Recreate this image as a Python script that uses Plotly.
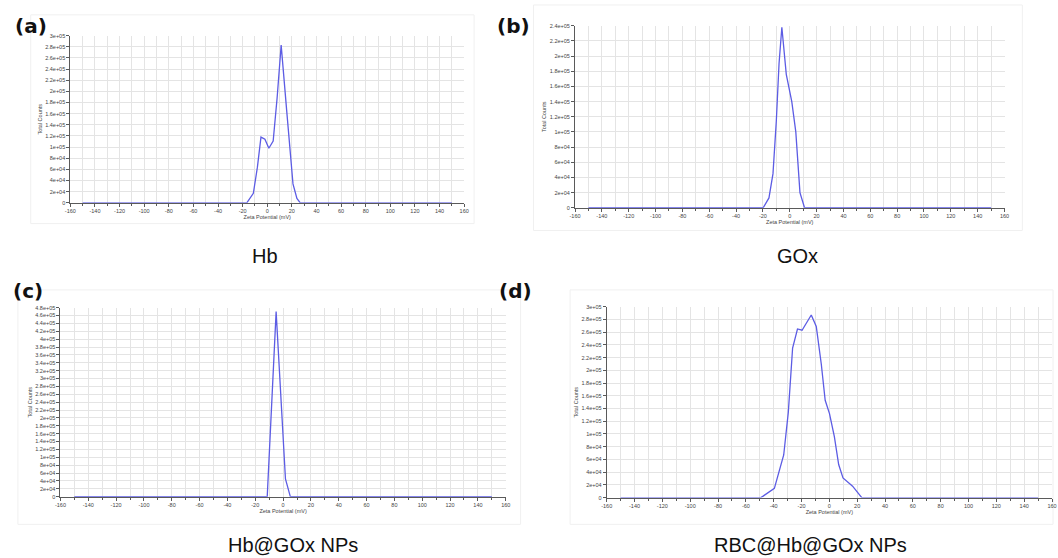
import plotly.graph_objects as go

# ---- data: zeta potential distributions (Total Counts vs mV) ----
hb_x = [-150, -16.6, -11.3, -8, -5.1, -1.9, 1.3, 4.8, 8, 11.3, 16, 20.9, 24.1, 26.8, 150]
hb_y = [0, 0, 17000, 64000, 118000, 114000, 98000, 111000, 188000, 283000, 160000, 34000, 8000, 0, 0]

gox_x = [-150, -19.8, -15.5, -12.5, -10, -8, -5.9, -2.6, 1.5, 4.5, 7.6, 11, 150]
gox_y = [0, 0, 13000, 45000, 115000, 190000, 238000, 176000, 140000, 100000, 20000, 0, 0]

hbgox_x = [-150, -11.4, -5, 1.7, 5.2, 150]
hbgox_y = [0, 0, 470000, 45000, 0, 0]

rbc_x = [-150, -49.2, -39.5, -36.1, -32.8, -29.5, -26.4, -22.9, -19.6, -13, -9.4, -5.8, -3, 0.1, 3.6, 6.7, 9.8, 16.7, 23.3, 150]
rbc_y = [0, 0, 14500, 41000, 67000, 134000, 235000, 265000, 263000, 287000, 269000, 210000, 153000,
         132000, 96000, 52000, 31000, 18000, 0, 0]

panel_tags = ["(a)", "(b)", "(c)", "(d)"]
captions = ["Hb", "GOx", "Hb@GOx NPs", "RBC@Hb@GOx NPs"]
y_tops = [300000, 240000, 480000, 300000]
x_ticks = list(range(-160, 161, 20))
y_step = 20000

W, H = 1058, 558
LINE = "rgb(92,92,228)"
GRID = "#e4e4e4"
AX = "#5a5a5a"

# plot-area boxes in pixels: (left, top, right, bottom)
boxes = [(65, 33, 463, 202), (575, 23, 1009, 207), (55, 308, 505, 499), (607, 307, 1057, 500)]
frames = [(25, 12, 473, 223), (533, 2, 1027, 230), (12, 290, 520, 527), (570, 290, 1058, 527)]
tag_pos = [(8, 23), (495, 23), (6, 291), (497, 291)]
cap_pos = [(262, 256), (800, 256), (290, 548), (813, 548)]

series = [(hb_x, hb_y), (gox_x, gox_y), (hbgox_x, hbgox_y), (rbc_x, rbc_y)]

fig = go.Figure()
layout = dict(width=W, height=H, margin=dict(l=0, r=0, t=0, b=0),
              paper_bgcolor="white", plot_bgcolor="white", showlegend=False,
              font=dict(family="Liberation Sans, Arial, sans-serif", color="#333"))

def fx(px):
    return px / W

def fy(py):
    return 1 - py / H

shapes, annotations = [], []
tick_font = dict(size=5.5, color="#444", family="Liberation Sans, Arial, sans-serif")

for i, ((xs, ys), box, top) in enumerate(zip(series, boxes, y_tops)):
    n = "" if i == 0 else str(i + 1)
    l, t, r, b = box
    yvals = list(range(0, top + 1, y_step))
    ytext = ["0" if v == 0 else "{:.3g}".format(v) for v in yvals]
    layout["xaxis" + n] = dict(
        domain=[fx(l), fx(r)], anchor="y" + n, range=[-160, 160],
        tickmode="array", tickvals=x_ticks, ticktext=[str(v) for v in x_ticks],
        showgrid=True, gridcolor=GRID, gridwidth=1, zeroline=False,
        showline=True, linecolor=AX, linewidth=1,
        ticks="outside", ticklen=3, tickcolor=AX, tickfont=tick_font,
        minor=dict(tickmode="linear", tick0=-160, dtick=10, showgrid=True,
                   gridcolor=GRID, ticks="outside", ticklen=2, tickcolor=AX),
        title=dict(text="Zeta Potential (mV)", font=dict(size=5.5, color="#444"), standoff=1),
    )
    layout["yaxis" + n] = dict(
        domain=[fy(b), fy(t)], anchor="x" + n, range=[0, top],
        tickmode="array", tickvals=yvals, ticktext=ytext,
        showgrid=True, gridcolor=GRID, gridwidth=1, zeroline=False,
        showline=True, linecolor=AX, linewidth=1,
        ticks="outside", ticklen=3, tickcolor=AX, tickfont=tick_font,
        title=dict(text="Total Counts", font=dict(size=5.5, color="#444"), standoff=2),
    )
    fig.add_trace(go.Scatter(x=xs, y=ys, mode="lines", xaxis="x" + n, yaxis="y" + n,
                             line=dict(color=LINE, width=1.3), hoverinfo="skip"))

    fl, ft, fr, fb = frames[i]
    shapes.append(dict(type="rect", xref="paper", yref="paper",
                       x0=fx(fl), x1=fx(fr), y0=fy(fb), y1=fy(ft),
                       line=dict(color="#f0f0f0", width=1), layer="below"))
    tx, ty = tag_pos[i]
    annotations.append(dict(text=panel_tags[i], xref="paper", yref="paper",
                            x=fx(tx), y=fy(ty), xanchor="left", yanchor="middle",
                            showarrow=False, borderpad=0,
                            font=dict(family="DejaVu Sans", size=20, color="#111", weight="bold")))
    cx, cy = cap_pos[i]
    annotations.append(dict(text=captions[i], xref="paper", yref="paper",
                            x=fx(cx), y=fy(cy), xanchor="center", yanchor="middle",
                            showarrow=False,
                            font=dict(family="Liberation Sans, Arial, sans-serif", size=20, color="#111")))

layout["shapes"] = shapes
layout["annotations"] = annotations
fig.update_layout(**layout)
fig.write_html("out.html")
